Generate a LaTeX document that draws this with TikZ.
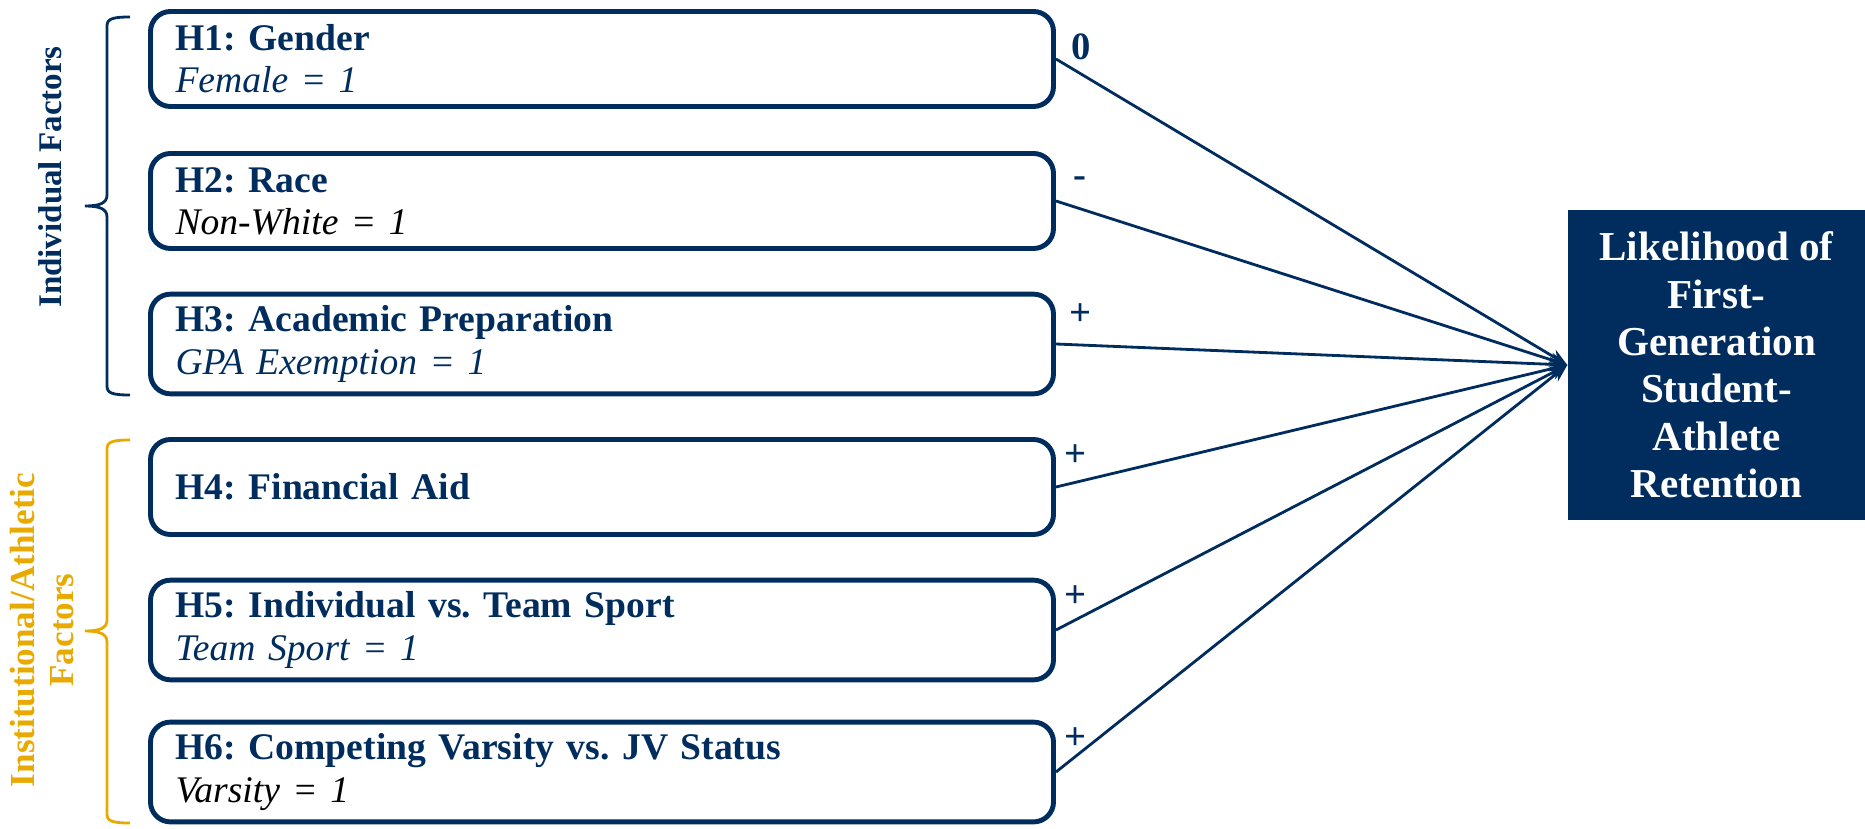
\documentclass[tikz,border=0pt]{standalone}
\usepackage{fontspec}
\setmainfont{Liberation Serif}
\usetikzlibrary{arrows.meta}
\definecolor{navy}{RGB}{0,45,94}
\definecolor{gold}{RGB}{232,170,0}
\frenchspacing
\tikzset{
  hypbox/.style={draw=navy, line width=1.4pt, rounded corners=0.2cm,
    minimum width=9.03cm, minimum height=0.95cm, text width=8.53cm,
    inner xsep=0.25cm, align=left, text=navy,
    font=\fontsize{10.7}{12}\selectfont},
  outcome/.style={fill=navy, text=white, minimum width=2.97cm,
    minimum height=3.1cm, align=center,
    font=\bfseries\fontsize{11.7}{13.5}\selectfont},
  effect/.style={draw=navy, line width=0.8pt, -{Stealth[length=5pt,width=4pt]}},
  sign/.style={text=navy, inner sep=0pt, font=\bfseries\fontsize{11}{12}\selectfont},
  bracket/.style={line width=0.8pt}
}
\begin{document}
\begin{tikzpicture}
\useasboundingbox (0,0) rectangle (18.65,8.28);

\node[hypbox] (h1) at (6.02,7.69) {\textbf{H1: Gender}\\\textit{Female = 1}};
\node[hypbox] (h2) at (6.02,6.27) {\textbf{H2: Race}\\\textcolor{black}{\textit{Non-White = 1}}};
\node[hypbox] (h3) at (6.02,4.84) {\textbf{H3: Academic Preparation}\\\textit{GPA Exemption = 1}};
\node[hypbox] (h4) at (6.02,3.41) {\textbf{H4: Financial Aid}};
\node[hypbox] (h5) at (6.02,1.98) {\textbf{H5: Individual vs. Team Sport}\\\textit{Team Sport = 1}};
\node[hypbox] (h6) at (6.02,0.56) {\textbf{H6: Competing Varsity vs. JV Status}\\\textcolor{black}{\textit{Varsity = 1}}};

\node[outcome] (out) at (17.165,4.63) {Likelihood of\\First-\\Generation\\Student-\\Athlete\\Retention};

\draw[effect] (h1.east) -- (out.west);
\draw[effect] (h2.east) -- (out.west);
\draw[effect] (h3.east) -- (out.west);
\draw[effect] (h4.east) -- (out.west);
\draw[effect] (h5.east) -- (out.west);
\draw[effect] (h6.east) -- (out.west);

\node[sign] (s1) at ([shift={(0.25,0.12)}]h1.east) {0};
\node[sign] (s2) at ([shift={(0.24,0.19)}]h2.east) {-};
\node[sign] (s3) at ([shift={(0.25,0.29)}]h3.east) {+};
\node[sign] (s4) at ([shift={(0.20,0.31)}]h4.east) {+};
\node[sign] (s5) at ([shift={(0.20,0.33)}]h5.east) {+};
\node[sign] (s6) at ([shift={(0.20,0.33)}]h6.east) {+};

\draw[bracket, navy] (1.30,8.11) .. controls (1.12,8.11) and (1.07,8.09) .. (1.07,8.02)
  -- (1.07,6.33) .. controls (1.07,6.25) and (1.0,6.22) .. (0.85,6.22)
  .. controls (1.0,6.22) and (1.07,6.19) .. (1.07,6.11)
  -- (1.07,4.42) .. controls (1.07,4.35) and (1.12,4.33) .. (1.30,4.33);
\draw[bracket, gold] (1.30,3.88) .. controls (1.12,3.88) and (1.07,3.86) .. (1.07,3.79)
  -- (1.07,2.08) .. controls (1.07,2.0) and (1.0,1.97) .. (0.85,1.97)
  .. controls (1.0,1.97) and (1.07,1.94) .. (1.07,1.86)
  -- (1.07,0.14) .. controls (1.07,0.07) and (1.12,0.05) .. (1.30,0.05);

\node[rotate=90, text=navy, font=\bfseries\fontsize{9.4}{11}\selectfont] (ind) at (0.50,6.51) {Individual Factors};
\node[rotate=90, text=gold, align=center, font=\bfseries\fontsize{10}{11}\selectfont] (inst) at (0.42,1.98) {Institutional/Athletic\\Factors};
\end{tikzpicture}
\end{document}
